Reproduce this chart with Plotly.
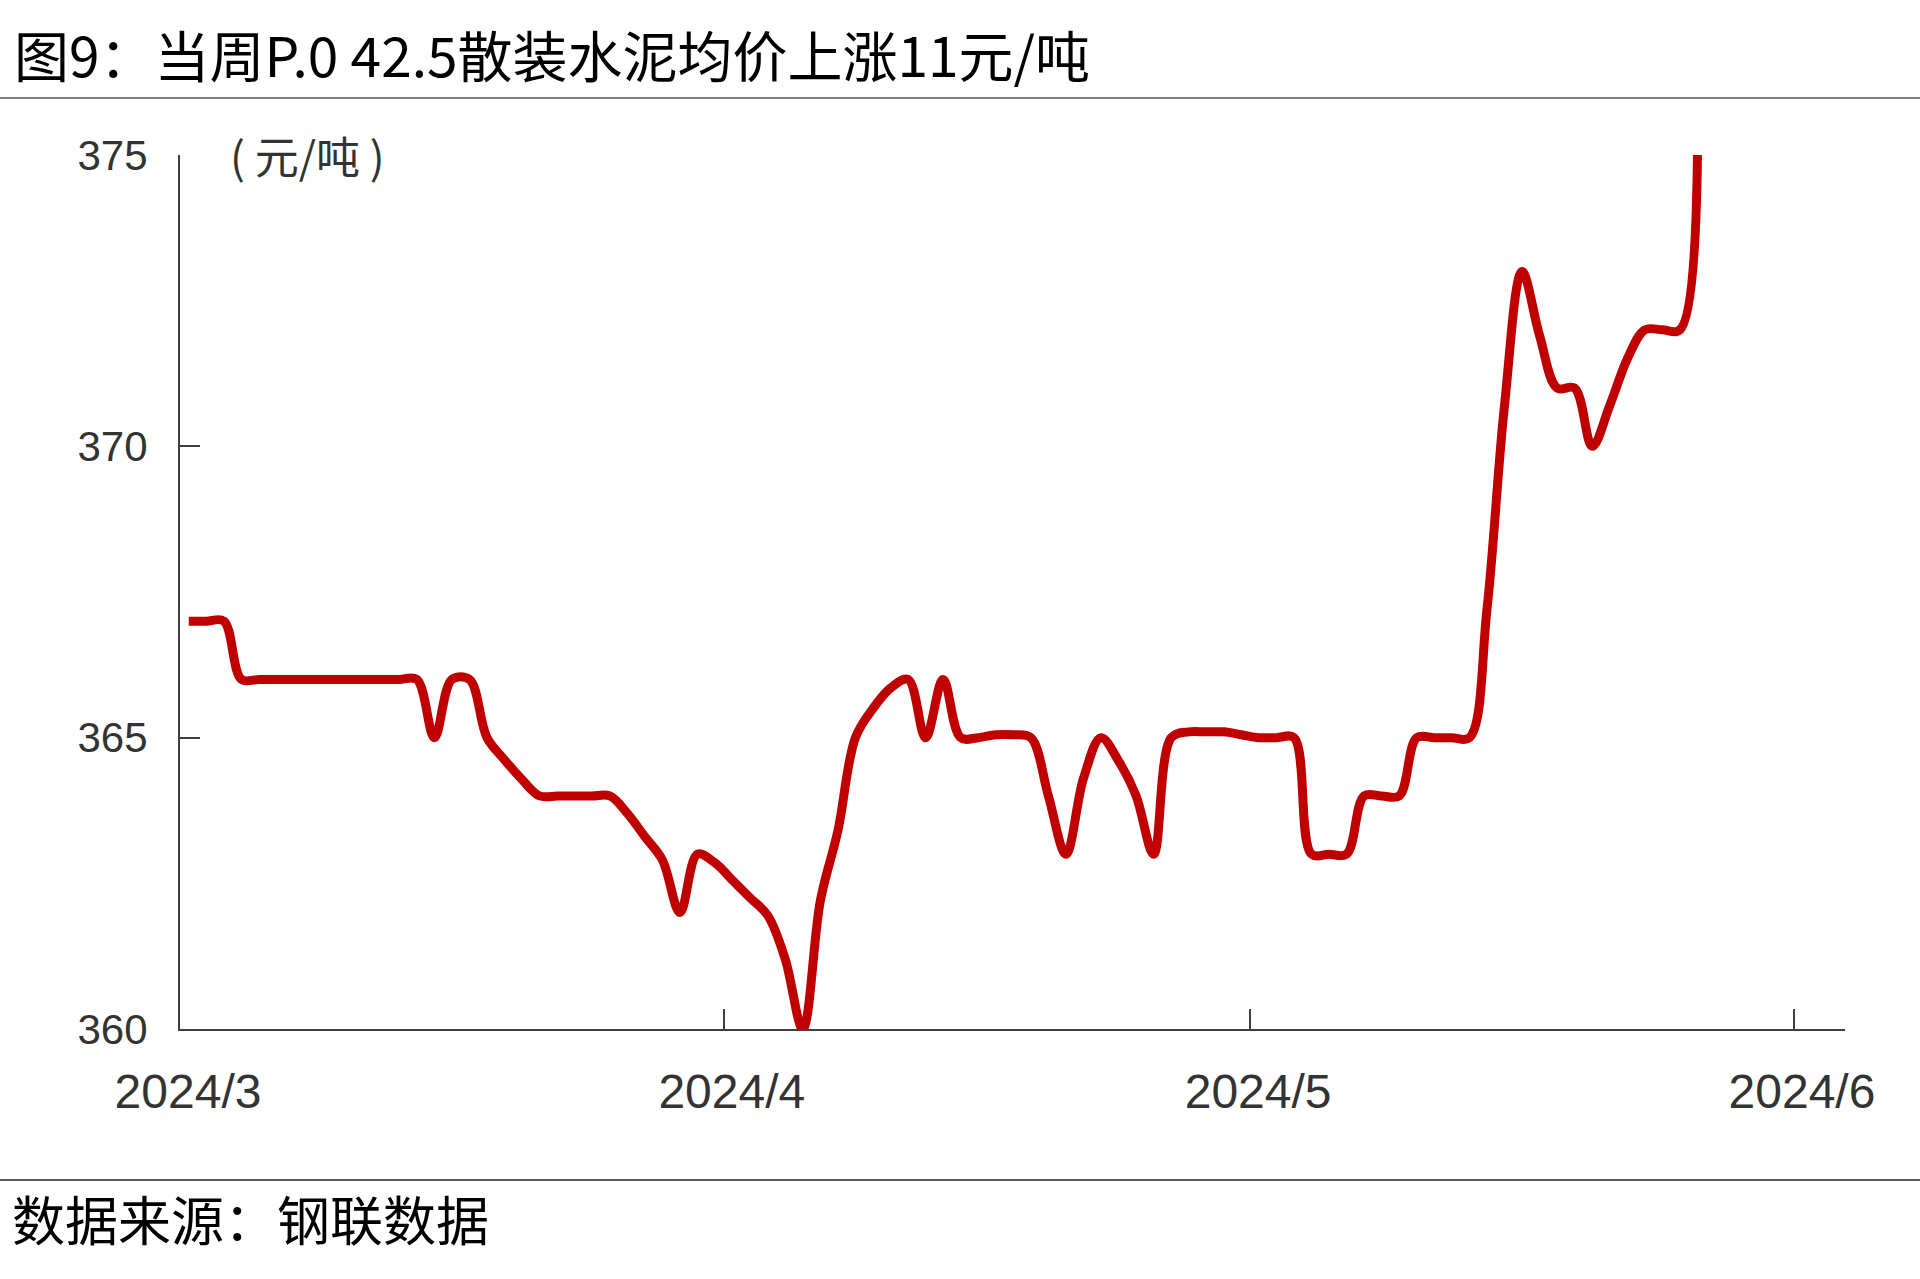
import pandas as pd
import plotly.graph_objects as go

# ---- data (daily, from 2024-03-01) ----
start_date = "2024-03-01"
prices = [
    367, 367, 367, 366, 366, 366, 366, 366, 366, 366,
    366, 366, 366, 366, 365, 366, 366, 365.0, 364.62, 364.28,
    364, 364, 364, 364, 364, 363.7, 363.3, 362.9, 362, 363,
    362.85, 362.55, 362.25, 361.95, 361.2, 360, 362.2, 363.4, 365.0, 365.5,
    365.85, 366, 365, 366, 365, 365, 365.05, 365.05, 365, 364,
    363, 364.3, 365, 364.6, 364.0, 363, 365, 365.1, 365.1, 365.1,
    365.05, 365, 365, 365, 363, 363, 363, 364, 364, 364,
    365, 365, 365, 365, 367.2, 370.7, 373, 371.9, 371, 371,
    370, 370.7, 371.5, 372, 372, 372, 375,
]
dates = pd.date_range(start_date, periods=len(prices), freq="D")

y_ticks = [360, 365, 370, 375]
x_ticks = ["2024-03-01", "2024-04-01", "2024-05-01", "2024-06-01"]

title_text = "图9：当周P.0 42.5散装水泥均价上涨11元/吨"
unit_text = "( 元/吨 )"
source_text = "数据来源：钢联数据"

W, H = 1920, 1279
ML, MR, MT, MB = 180, 75, 155, 250
PW = W - ML - MR
PH = H - MT - MB


def px_x(px):
    return (px - ML) / PW


def px_y(py):
    return (H - MB - py) / PH


fig = go.Figure()
fig.add_trace(go.Scatter(
    x=dates, y=prices, mode="lines",
    xperiod=86400000, xperiodalignment="middle",
    line=dict(color="#C00000", width=9, shape="spline", smoothing=1.0),
    hoverinfo="skip", showlegend=False,
))

axis_col = "#404040"
fig.update_layout(
    width=W, height=H,
    margin=dict(l=ML, r=MR, t=MT, b=MB, pad=0),
    paper_bgcolor="white", plot_bgcolor="white",
    font=dict(family="Liberation Sans, Arial, sans-serif", color="#333333"),
    xaxis=dict(
        type="date",
        range=["2024-03-01", "2024-06-03 21:50"],
        tickvals=x_ticks, tickformat="%Y/%-m",
        ticks="inside", ticklen=20, tickwidth=2, tickcolor=axis_col,
        showline=True, linecolor=axis_col, linewidth=2,
        showgrid=False, zeroline=False,
        tickfont=dict(size=48, color="#333333"),
        ticklabelstandoff=19, ticklabelshift=8,
    ),
    yaxis=dict(
        range=[360, 375], tickvals=y_ticks,
        ticks="inside", ticklen=20, tickwidth=2, tickcolor=axis_col,
        showline=True, linecolor=axis_col, linewidth=2,
        showgrid=False, zeroline=False,
        tickfont=dict(size=42, color="#333333"),
        ticklabelstandoff=22,
    ),
)

cjk = "Noto Sans CJK SC"
fig.add_annotation(
    text=title_text, xref="paper", yref="paper",
    x=px_x(12), y=px_y(53), xanchor="left", yanchor="middle",
    showarrow=False, font=dict(family=cjk, size=55, color="#000000"),
)
fig.add_annotation(
    text=unit_text, xref="paper", yref="paper",
    x=px_x(228), y=px_y(155), xanchor="left", yanchor="middle",
    showarrow=False, font=dict(family=cjk, size=44, color="#333333"),
)
fig.add_annotation(
    text=source_text, xref="paper", yref="paper",
    x=px_x(10), y=px_y(1218), xanchor="left", yanchor="middle",
    showarrow=False, font=dict(family=cjk, size=53, color="#000000"),
)

for py, col in [(98, "#7F7F7F"), (1180, "#595959")]:
    fig.add_shape(
        type="line", xref="paper", yref="paper",
        x0=px_x(0), x1=px_x(W), y0=px_y(py), y1=px_y(py),
        line=dict(color=col, width=2),
    )

fig.write_html(
    "out.html",
    config={"displayModeBar": False},
    post_script="document.body.style.margin='0';document.body.style.overflow='hidden';",
)
